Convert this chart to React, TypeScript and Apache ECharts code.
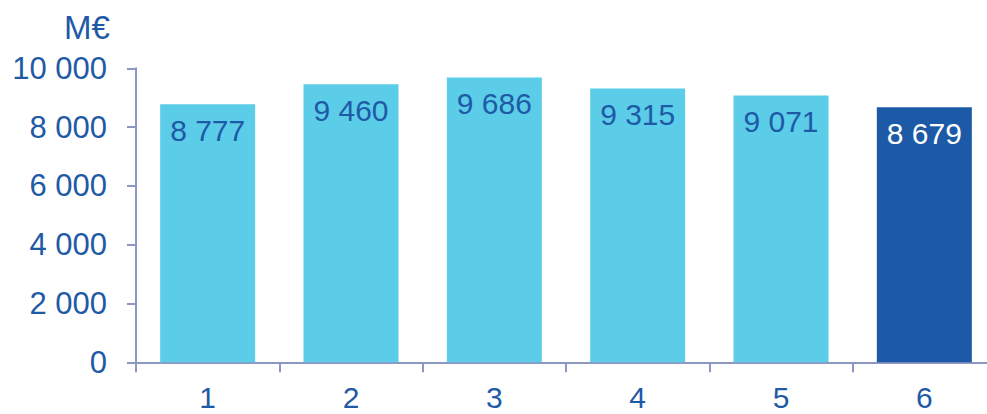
import React, { useEffect, useRef } from "react";
import * as echarts from "echarts";

const categories = ["1", "2", "3", "4", "5", "6"];
const values = [8777, 9460, 9686, 9315, 9071, 8679];
const highlightIndex = 5;
const yTicks = { min: 0, max: 10000, interval: 2000 };
const unitLabel = "M€";

const LIGHT = "#5BCDE8";
const DARK = "#1C59A6";
const TEXT = "#1F5AA6";
const AXIS = "#8C98C2";
const FONT = "Liberation Sans, Arial, sans-serif";

function fmt(v: number): string {
  return String(v).replace(/\B(?=(\d{3})+(?!\d))/g, " ");
}

export default function App() {
  const ref = useRef<HTMLDivElement>(null);
  useEffect(() => {
    if (!ref.current) return;
    const chart = echarts.init(ref.current, null, { renderer: "svg" });
    chart.setOption({
      animation: false,
      textStyle: { fontFamily: FONT },
      grid: { left: 136, right: 4, top: 68.3, bottom: 51.7, containLabel: false },
      graphic: [
        {
          type: "text",
          left: 64,
          top: 11,
          style: { text: unitLabel, fontSize: 33, fill: TEXT, fontFamily: FONT },
        },
      ],
      xAxis: {
        type: "category",
        data: categories,
        axisLine: { lineStyle: { color: AXIS, width: 2 } },
        axisTick: { show: true, length: 10, lineStyle: { color: AXIS, width: 2 } },
        axisLabel: { color: TEXT, fontSize: 30, lineHeight: 22, margin: 24 },
      },
      yAxis: {
        type: "value",
        min: yTicks.min,
        max: yTicks.max,
        interval: yTicks.interval,
        splitLine: { show: false },
        axisLine: { show: true, lineStyle: { color: AXIS, width: 2 } },
        axisTick: { show: true, length: 9, lineStyle: { color: AXIS, width: 2 } },
        axisLabel: { color: TEXT, fontSize: 31, margin: 29, formatter: (v: number) => fmt(v) },
      },
      series: [
        {
          type: "bar",
          barWidth: 95,
          data: values.map((v, i) => ({
            value: v,
            itemStyle: { color: i === highlightIndex ? DARK : LIGHT },
            label: { color: i === highlightIndex ? "#FFFFFF" : TEXT },
          })),
          label: {
            show: true,
            position: "insideTop",
            distance: 11,
            fontSize: 30,
            formatter: (p: any) => fmt(p.value),
          },
        },
      ],
    });
    return () => chart.dispose();
  }, []);
  return (
    <div style={{ position: "fixed", left: 0, top: 0, width: 987, height: 414, overflow: "hidden", background: "#fff" }}>
      <div ref={ref} style={{ width: 1000, height: 414 }} />
    </div>
  );
}
